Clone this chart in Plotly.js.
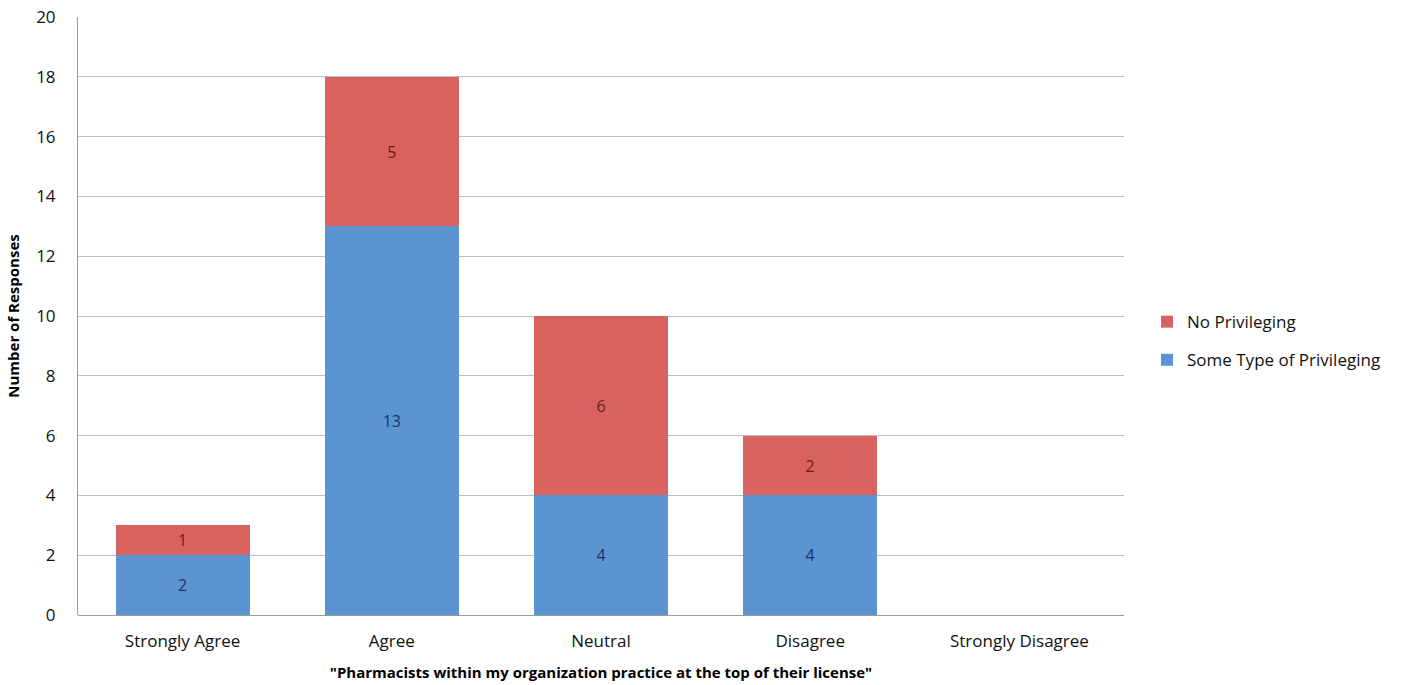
<!DOCTYPE html>
<html>
<head>
<meta charset="utf-8">
<script src="https://cdn.plot.ly/plotly-3.0.1.min.js"></script>
<style>html,body{margin:0;padding:0;background:#fff;}#chart{width:1412px;height:685px;}</style>
</head>
<body>
<div id="chart"></div>
<script>
const categories = ["Strongly Agree", "Agree", "Neutral", "Disagree", "Strongly Disagree"];
const somePrivileging = [2, 13, 4, 4, 0];
const noPrivileging = [1, 5, 6, 2, 0];
const seriesNames = ["Some Type of Privileging", "No Privileging"];
const yTicks = [0, 2, 4, 6, 8, 10, 12, 14, 16, 18, 20];

const font = "Open Sans, Liberation Sans, sans-serif";
function labels(arr){ return arr.map(v => v > 0 ? String(v) : ""); }

const traces = [
  {
    type: "bar", name: seriesNames[0], x: categories, y: somePrivileging, legendgroup: "a", legendrank: 2,
    text: labels(somePrivileging), textposition: "inside", insidetextanchor: "middle",
    textfont: {family: font, size: 16, color: "#15346e"},
    marker: {color: "#5b94d0"}, hoverinfo: "x+y+name"
  },
  {
    type: "bar", name: seriesNames[1], x: categories, y: noPrivileging, legendgroup: "b", legendrank: 1,
    text: labels(noPrivileging), textposition: "inside", insidetextanchor: "middle",
    textfont: {family: font, size: 16, color: "#6e1c18"},
    marker: {color: "#d8625f"}, hoverinfo: "x+y+name"
  }
];

const layout = {
  width: 1412, height: 685,
  margin: {l: 78, r: 288, t: 17, b: 70},
  barmode: "stack",
  bargap: 0.36,
  paper_bgcolor: "#fff", plot_bgcolor: "#fff",
  font: {family: font, size: 16, color: "#111"},
  showlegend: true,
  legend: {
    x: 1.022, y: 0.458, xanchor: "left", yanchor: "middle",
    traceorder: "grouped",
    font: {family: font, size: 17, color: "#111"},
    itemwidth: 30, tracegroupgap: 13
  },
  xaxis: {
    type: "category",
    showgrid: false,
    showline: false,
    ticks: "",
    ticklabelstandoff: 14,
    tickfont: {family: font, size: 17, color: "#111"},
    title: {text: "<b>\"Pharmacists within my organization practice at the top of their license\"</b>",
            font: {family: font, size: 15, color: "#000"}, standoff: 16},
    automargin: false
  },
  yaxis: {
    range: [0, 20],
    tickvals: yTicks,
    showgrid: true, gridcolor: "#bdbdbd", gridwidth: 1,
    zeroline: true, zerolinecolor: "#9a9a9a", zerolinewidth: 1,
    showline: true, linecolor: "#9a9a9a", linewidth: 1,
    ticks: "",
    ticklabelstandoff: 18,
    tickfont: {family: font, size: 17, color: "#111"},
    title: {text: "<b>Number of Responses</b>", font: {family: font, size: 15, color: "#000"}, standoff: 12},
    automargin: false
  }
};

Plotly.newPlot("chart", traces, layout, {displayModeBar: false, staticPlot: true});
</script>
</body>
</html>
